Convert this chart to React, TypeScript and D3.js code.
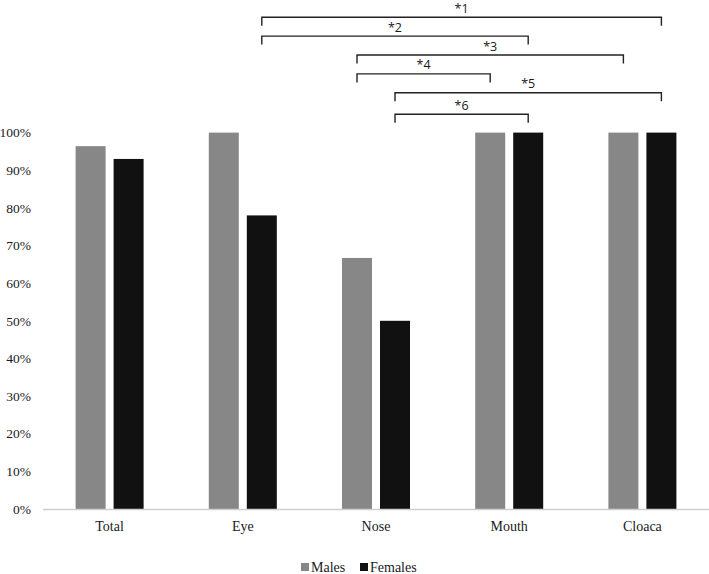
import React from "react";
import * as d3 from "d3";

const categories = ["Total", "Eye", "Nose", "Mouth", "Cloaca"];
const seriesNames = ["Males", "Females"];
const males = [0.964, 1.0, 0.667, 1.0, 1.0];
const females = [0.93, 0.78, 0.5, 1.0, 1.0];
const yTicks = [0, 0.1, 0.2, 0.3, 0.4, 0.5, 0.6, 0.7, 0.8, 0.9, 1.0];
// significance brackets: [fromCategory, fromSeries, toCategory, toSeries, label]
const bracketFrom = [["Eye", "Females"], ["Eye", "Females"], ["Nose", "Males"], ["Nose", "Males"], ["Nose", "Females"], ["Nose", "Females"]];
const bracketTo = [["Cloaca", "Females"], ["Mouth", "Females"], ["Cloaca", "Males"], ["Mouth", "Males"], ["Cloaca", "Females"], ["Mouth", "Females"]];
const bracketLabels = ["*1", "*2", "*3", "*4", "*5", "*6"];

const W = 709;
const H = 574;
const colors: Record<string, string> = { Males: "#878787", Females: "#111111" };

export default function App() {
  const x = d3.scaleBand<string>().domain(categories).range([43, 709]).paddingInner(0).paddingOuter(0);
  const y = d3.scaleLinear().domain([0, 1]).range([509, 132.6]);
  const bw = 30;
  const gap = 8;
  const barX = (cat: string, s: string) => {
    const c = (x(cat) as number) + x.bandwidth() / 2;
    return s === "Males" ? c - gap / 2 - bw : c + gap / 2;
  };
  const barCenter = (cat: string, s: string) => barX(cat, s) + bw / 2;
  const values: Record<string, number[]> = { Males: males, Females: females };
  const serif = "'Liberation Serif', 'Times New Roman', serif";
  const sans = "'Open Sans', 'Noto Sans', sans-serif";

  // bracket levels, from top (level 0) down
  const topLevel = y(1) - 115.4;
  const levelStep = 18.9;
  const tick = 8.5;

  return (
    <svg width={W} height={H} style={{ position: "absolute", left: 0, top: 0, background: "#fff" }}>
      <rect x={0} y={0} width={W} height={H} fill="#fff" />
      {yTicks.map((t) => (
        <text key={t} x={31} y={y(t)} dy="0.35em" textAnchor="end" fontFamily={serif} fontSize={13.5} fill="#1a1a1a">
          {d3.format(".0%")(t)}
        </text>
      ))}
      {seriesNames.map((s) =>
        categories.map((c, i) => (
          <rect key={s + c} x={barX(c, s)} y={y(values[s][i])} width={bw} height={y(0) - y(values[s][i])} fill={colors[s]} />
        ))
      )}
      <line x1={43} x2={709} y1={y(0) + 0.5} y2={y(0) + 0.5} stroke="#cfcfcf" strokeWidth={1.3} />
      {categories.map((c) => (
        <text key={c} x={(x(c) as number) + x.bandwidth() / 2} y={531} textAnchor="middle" fontFamily={serif} fontSize={14} fill="#1a1a1a">
          {c}
        </text>
      ))}
      {bracketLabels.map((lab, i) => {
        const x1 = barCenter(bracketFrom[i][0], bracketFrom[i][1]);
        const x2 = barCenter(bracketTo[i][0], bracketTo[i][1]);
        const yy = topLevel + i * levelStep + (i === 5 ? 2.6 : 0);
        return (
          <g key={lab}>
            <path d={`M${x1},${yy + tick}V${yy}H${x2}V${yy + tick}`} fill="none" stroke="#222" strokeWidth={1.4} />
            <text x={(x1 + x2) / 2} y={yy - 4.5} textAnchor="middle" fontFamily={sans} fontSize={12.5} fill="#1a1a1a">
              {lab}
            </text>
          </g>
        );
      })}
      <g>
        <rect x={301} y={563} width={8} height={8} fill={colors.Males} />
        <text x={311} y={572} fontFamily={serif} fontSize={14} fill="#1a1a1a">Males</text>
        <rect x={360} y={563} width={8} height={8} fill={colors.Females} />
        <text x={370} y={572} fontFamily={serif} fontSize={14} fill="#1a1a1a">Females</text>
      </g>
    </svg>
  );
}
